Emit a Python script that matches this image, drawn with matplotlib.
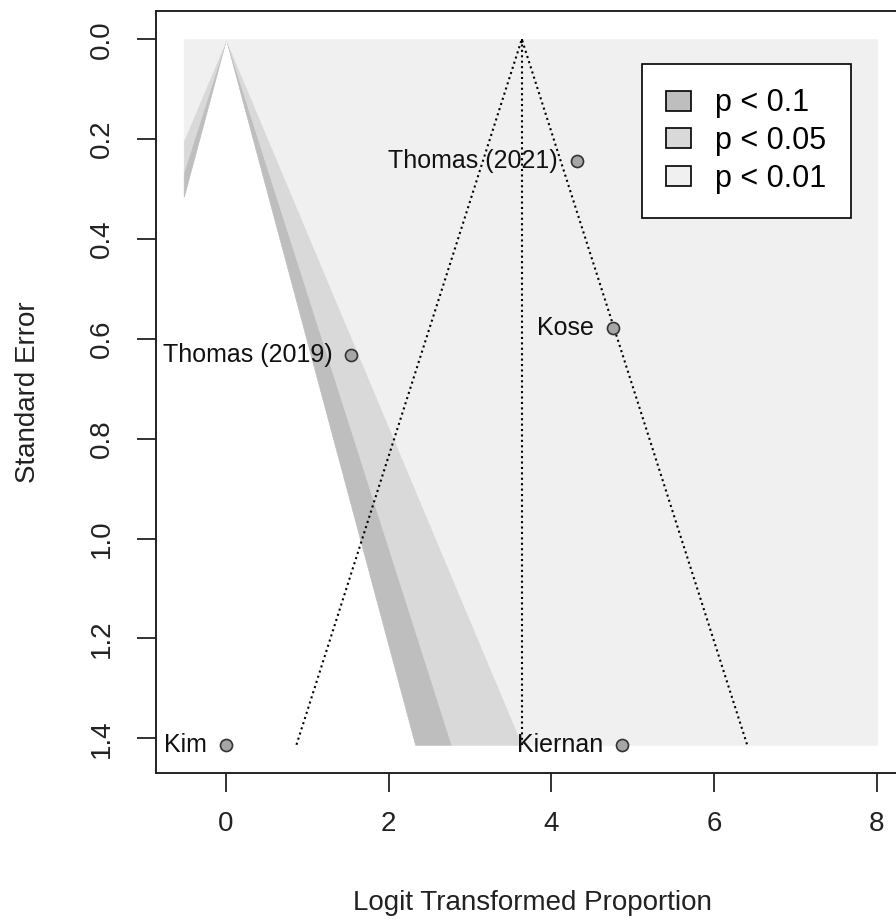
import numpy as np
import matplotlib.pyplot as plt
from matplotlib.patches import Patch

plt.rcParams['font.family'] = ['Liberation Sans', 'DejaVu Sans']

# study estimates (logit transformed proportions) and standard errors
studies = ['Thomas (2021)', 'Kose', 'Thomas (2019)', 'Kim', 'Kiernan']
yi = [4.31, 4.75, 1.54, 0.00, 4.87]
sei = [0.243, 0.578, 0.633, 1.413, 1.413]

# pooled estimate of the model
est = 3.635

# significance contours around zero
levels = [0.10, 0.05, 0.01]
z_vals = [1.645, 1.960, 2.576]
shade = ['#bebebe', '#d9d9d9', '#f0f0f0']
x_range = [-0.52, 8.0]

x_ticks = [0, 2, 4, 6, 8]
y_ticks = [0.0, 0.2, 0.4, 0.6, 0.8, 1.0, 1.2, 1.4]

se_max = max(sei)

fig = plt.figure(figsize=(8.96, 9.23), dpi=100)
ax = fig.add_axes([0.1741, 0.1625, 0.8356, 0.8256])

# contour bands on both sides of zero, clipped to the x range;
# the area inside the first contour stays white
se_grid = np.linspace(0, se_max, 800)
outer = z_vals[1:] + [np.inf]
for z_in, z_out, col in zip(z_vals, outer, shade):
    for sign in (1, -1):
        a = np.clip(sign * z_in * se_grid, *x_range)
        b = np.clip(sign * z_out * np.where(se_grid > 0, se_grid, 0), *x_range)
        if z_out == np.inf:
            b = np.full_like(se_grid, x_range[1] if sign > 0 else x_range[0])
        lo, hi = np.minimum(a, b), np.maximum(a, b)
        ax.fill_betweenx(se_grid, lo, hi, where=hi > lo, facecolor=col,
                         edgecolor=col, lw=0.5, zorder=2)

# pseudo confidence region around the estimate
dot = (0, (1, 1.6))
ax.plot([est, est], [0, se_max], color='black', lw=1.5, ls=dot, zorder=3)
ax.plot([est - 1.96 * se_max, est, est + 1.96 * se_max], [se_max, 0, se_max],
        color='black', lw=1.5, ls=dot, zorder=3)

ax.scatter(yi, sei, s=75, c='#a6a6a6', edgecolors='#333333', linewidths=1.2, zorder=5)
for name, x, y in zip(studies, yi, sei):
    ax.annotate(name, (x, y), xytext=(-13.5, 0), textcoords='offset points',
                ha='right', va='center', fontsize=18, color='#111111', zorder=6)

# R-style 4% padding on both axes
xpad = 0.04 * (x_range[1] - x_range[0])
ax.set_xlim(x_range[0] - xpad, x_range[1] + xpad)
ax.set_ylim(se_max * 1.04, -se_max * 0.04)

ax.set_xticks(x_ticks)
ax.set_xticklabels([str(t) for t in x_ticks])
ax.set_yticks(y_ticks)
ax.set_yticklabels([f'{t:.1f}' for t in y_ticks], rotation=90, va='center')
ax.tick_params(length=13.5, width=1.3, labelsize=20, colors='#222222')
ax.tick_params(axis='x', pad=14)
ax.tick_params(axis='y', pad=16)
for s in ax.spines.values():
    s.set_linewidth(1.4)
    s.set_color('#222222')

fig.text(28 / 896, 1 - 392 / 923, 'Standard Error', rotation=90,
         ha='center', va='center', fontsize=20, color='#222222')
fig.text(532 / 896, 1 - 903 / 923, 'Logit Transformed Proportion',
         ha='center', va='center', fontsize=20, color='#222222')

handles = [Patch(facecolor=shade[i], edgecolor='black', lw=1.2,
                 label=f'p < {levels[i]:g}') for i in range(len(levels))]
leg = ax.legend(handles=handles, loc='upper right',
                bbox_to_anchor=(851 / 896, 1 - 64 / 923),
                bbox_transform=fig.transFigure, fontsize=22, frameon=True,
                fancybox=False, edgecolor='black', framealpha=1,
                handlelength=0.8, handleheight=0.62, handletextpad=0.8,
                borderpad=0.8, labelspacing=0.25, borderaxespad=0)
leg.get_frame().set_linewidth(1.2)
leg.set_zorder(10)

fig.savefig('out.png', dpi=100)
